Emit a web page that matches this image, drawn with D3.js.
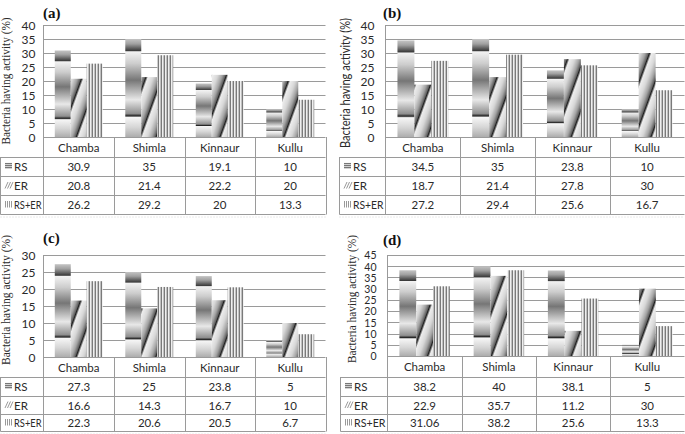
<!DOCTYPE html>
<html>
<head>
<meta charset="utf-8">
<script src="https://cdn.jsdelivr.net/npm/d3@7/dist/d3.min.js"></script>
<style>
  html, body { margin: 0; padding: 0; background: #fff; }
  svg { display: block; }
</style>
</head>
<body>
<script>
// ---------------- DATA ----------------
const categories = ["Chamba", "Shimla", "Kinnaur", "Kullu"];
const seriesNames = ["RS", "ER", "RS+ER"];
const panelLabels = ["(a)", "(b)", "(c)", "(d)"];
const yAxisTitle = "Bacteria having activity (%)";

const rsA = [30.9, 35, 19.1, 10];
const erA = [20.8, 21.4, 22.2, 20];
const rserA = [26.2, 29.2, 20, 13.3];

const rsB = [34.5, 35, 23.8, 10];
const erB = [18.7, 21.4, 27.8, 30];
const rserB = [27.2, 29.4, 25.6, 16.7];

const rsC = [27.3, 25, 23.8, 5];
const erC = [16.6, 14.3, 16.7, 10];
const rserC = [22.3, 20.6, 20.5, 6.7];

const rsD = [38.2, 40, 38.1, 5];
const erD = [22.9, 35.7, 11.2, 30];
const rserD = [31.06, 38.2, 25.6, 13.3];

const yMaxes = [40, 40, 30, 45];
const yTickStep = 5;

const panelData = [
  [rsA, erA, rserA],
  [rsB, erB, rserB],
  [rsC, erC, rserC],
  [rsD, erD, rserD]
];

// ---------------- LAYOUT ----------------
const layouts = [
  { tableLeft: 0.5, left: 43.5, right: 325.5, top: 25, bottom: 137, rows: [137, 157, 176, 195, 214],
    titleX: 43, titleY: 18, labX: 10, labY: 81, labLen: 127, labFont: "'Liberation Serif', 'Times New Roman', serif", tickPad: 8, tickFont: 12 },
  { tableLeft: 339.5, left: 385.5, right: 684.5, top: 25, bottom: 137, rows: [137, 157, 176, 195, 214],
    titleX: 383, titleY: 18, labX: 350, labY: 83, labLen: 130, labFont: "Lato, 'Open Sans', sans-serif", tickPad: 11, tickFont: 12 },
  { tableLeft: 0.5, left: 43.5, right: 325.5, top: 255, bottom: 357, rows: [357, 377, 396, 414, 431],
    titleX: 43, titleY: 243, labX: 10, labY: 300, labLen: 130, labFont: "'Liberation Serif', 'Times New Roman', serif", tickPad: 8, tickFont: 12 },
  { tableLeft: 340.5, left: 387.5, right: 684.5, top: 255, bottom: 356, rows: [356, 377, 396, 414, 431],
    titleX: 383, titleY: 245, labX: 356, labY: 299, labLen: 128, labFont: "'Liberation Serif', 'Times New Roman', serif", tickPad: 11, tickFont: 10.5 }
];

const sansFont = "Lato, 'Open Sans', sans-serif";
const lineColor = "#9a9a9a";
const textColor = "#2a2a2a";
const tableFont = 11.5;

const svg = d3.select("body").append("svg")
  .attr("width", 685).attr("height", 434);

// ---------------- PATTERNS ----------------
const defs = svg.append("defs");

// RS: banded vertical gradient stretched on each bar
const gRS = defs.append("linearGradient").attr("id", "gradRS")
  .attr("x1", 0).attr("y1", 0).attr("x2", 0).attr("y2", 1);
[[0, "#c4c4c4"], [0.05, "#a0a0a0"], [0.12, "#3a3a3a"], [0.13, "#f2f2f2"], [0.25, "#cdcdcd"],
 [0.42, "#767676"], [0.62, "#e8e8e8"], [0.76, "#8f8f8f"], [0.785, "#262626"], [0.80, "#f6f6f6"],
 [0.9, "#d6d6d6"], [1, "#adadad"]]
  .forEach(([o, c]) => gRS.append("stop").attr("offset", o).attr("stop-color", c));

// ER: tilted stripes with gradient
const gER = defs.append("linearGradient").attr("id", "gradERstripe")
  .attr("x1", 0).attr("y1", 0).attr("x2", 1).attr("y2", 0);
[[0, "#efefef"], [0.35, "#d8d8d8"], [0.65, "#a2a2a2"], [0.84, "#5e5e5e"], [0.9, "#1e1e1e"], [0.95, "#555"], [1, "#d2d2d2"]]
  .forEach(([o, c]) => gER.append("stop").attr("offset", o).attr("stop-color", c));
const pER = defs.append("pattern").attr("id", "patER")
  .attr("patternUnits", "userSpaceOnUse").attr("width", 15).attr("height", 60)
  .attr("patternTransform", "rotate(20)");
pER.append("rect").attr("width", 15).attr("height", 60).attr("fill", "url(#gradERstripe)");

// RS+ER: vertical lines
const pRE = defs.append("pattern").attr("id", "patRE")
  .attr("patternUnits", "userSpaceOnUse").attr("width", 3).attr("height", 10);
pRE.append("rect").attr("width", 3).attr("height", 10).attr("fill", "#efefef");
pRE.append("rect").attr("x", 1.6).attr("width", 1.4).attr("height", 10).attr("fill", "#7a7a7a");

const fills = ["url(#gradRS)", "url(#patER)", "url(#patRE)"];

// ---------------- LEGEND ICONS ----------------
function drawIcon(g, k, x, y) {
  const ic = g.append("g").attr("transform", `translate(${x},${y})`);
  if (k === 0) {
    ic.append("rect").attr("width", 7).attr("height", 6).attr("fill", "#d8d8d8");
    [0.5, 2.5, 4.5].forEach(yy => ic.append("line").attr("x1", 0).attr("x2", 7).attr("y1", yy).attr("y2", yy)
      .attr("stroke", "#777").attr("stroke-width", 1.1));
  } else if (k === 1) {
    [0, 2.5, 5].forEach(xx => ic.append("line").attr("x1", xx).attr("y1", 6.5).attr("x2", xx + 3).attr("y2", 0)
      .attr("stroke", "#999").attr("stroke-width", 1));
  } else {
    [0.5, 2.5, 4.5, 6.5].forEach(xx => ic.append("line").attr("x1", xx).attr("x2", xx).attr("y1", 0).attr("y2", 6.5)
      .attr("stroke", "#999").attr("stroke-width", 1));
  }
}

// ---------------- DRAW PANELS ----------------
layouts.forEach((L, i) => {
  const g = svg.append("g");
  const vals = panelData[i];
  const yMax = yMaxes[i];
  const y = d3.scaleLinear().domain([0, yMax]).range([L.bottom, L.top]);
  const x = d3.scaleBand().domain(categories).range([L.left, L.right]);
  const bw = x.bandwidth();
  const xs = d3.scaleBand().domain(seriesNames).range([bw * 0.16, bw * 0.84]);
  const ticks = d3.range(0, yMax + 0.001, yTickStep);

  // gridlines
  g.append("g").selectAll("line").data(ticks.filter(t => t > 0)).join("line")
    .attr("x1", L.left).attr("x2", L.right)
    .attr("y1", d => Math.round(y(d)) + 0.5).attr("y2", d => Math.round(y(d)) + 0.5)
    .attr("stroke", lineColor).attr("stroke-width", 1);

  // bars
  seriesNames.forEach((s, k) => {
    g.append("g").selectAll("rect").data(categories.map((c, j) => ({ c, v: vals[k][j] }))).join("rect")
      .attr("x", d => x(d.c) + xs(s))
      .attr("width", xs.bandwidth())
      .attr("y", d => y(d.v))
      .attr("height", d => y(0) - y(d.v))
      .attr("fill", fills[k]);
  });

  // y axis
  const ax = g.append("g").attr("transform", `translate(${L.left},0)`)
    .call(d3.axisLeft(y).tickValues(ticks).tickSize(0).tickPadding(L.tickPad));
  ax.select(".domain").remove();
  ax.selectAll("text").attr("font-family", sansFont).attr("font-size", L.tickFont)
    .attr("fill", textColor).attr("dy", "0.36em");
  // plot left line
  g.append("line").attr("x1", L.left).attr("x2", L.left).attr("y1", L.top).attr("y2", L.rows[4])
    .attr("stroke", lineColor);

  // title
  g.append("text").attr("x", L.titleX).attr("y", L.titleY).text(panelLabels[i])
    .attr("font-family", "'Liberation Serif', 'Times New Roman', serif").attr("font-weight", "bold")
    .attr("font-size", 15).attr("fill", "#111");

  // y axis title
  g.append("text").attr("transform", `translate(${L.labX},${L.labY}) rotate(-90)`)
    .attr("text-anchor", "middle").text(yAxisTitle)
    .attr("font-family", L.labFont).attr("font-size", 12.5).attr("fill", textColor)
    .attr("textLength", L.labLen).attr("lengthAdjust", "spacingAndGlyphs");

  // table lines
  const R = L.rows;
  const tl = g.append("g").attr("stroke", lineColor).attr("stroke-width", 1);
  tl.append("line").attr("x1", L.left).attr("x2", L.right).attr("y1", R[0] + 0.5).attr("y2", R[0] + 0.5);
  R.slice(1).forEach(r => tl.append("line").attr("x1", L.tableLeft).attr("x2", L.right)
    .attr("y1", r + 0.5).attr("y2", r + 0.5));
  tl.append("line").attr("x1", L.tableLeft).attr("x2", L.tableLeft).attr("y1", R[1]).attr("y2", R[4] + 0.5);
  categories.forEach(c => {
    const xx = Math.round(x(c) + bw) + 0.5;
    tl.append("line").attr("x1", xx).attr("x2", xx).attr("y1", R[0]).attr("y2", R[4] + 0.5);
  });
  // faint dotted shadow
  g.append("line").attr("x1", L.tableLeft).attr("x2", L.right).attr("y1", R[4] + 3).attr("y2", R[4] + 3)
    .attr("stroke", "#d4d4d4").attr("stroke-dasharray", "1,2");

  // header texts
  g.append("g").selectAll("text").data(categories).join("text")
    .attr("x", d => x(d) + bw / 2).attr("y", (R[0] + R[1]) / 2 + 4.5)
    .attr("text-anchor", "middle").text(d => d)
    .attr("font-family", sansFont).attr("font-size", tableFont).attr("fill", textColor);

  // series rows
  const colW = L.left - L.tableLeft;
  seriesNames.forEach((s, k) => {
    const yc = (R[k + 1] + R[k + 2]) / 2;
    drawIcon(g, k, L.tableLeft + 4.5, yc - 3.5);
    const t = g.append("text").attr("x", L.tableLeft + 13.5).attr("y", yc + 4.5).text(s)
      .attr("font-family", sansFont).attr("font-size", tableFont).attr("fill", textColor);
    const maxW = colW - 15.5;
    if (t.node().getComputedTextLength() > maxW) {
      t.attr("textLength", maxW).attr("lengthAdjust", "spacingAndGlyphs");
    }
    g.append("g").selectAll("text").data(categories.map((c, j) => ({ c, v: vals[k][j] }))).join("text")
      .attr("x", d => x(d.c) + bw / 2).attr("y", yc + 4.5)
      .attr("text-anchor", "middle").text(d => String(d.v))
      .attr("font-family", sansFont).attr("font-size", tableFont).attr("fill", textColor);
  });
});
</script>
</body>
</html>
